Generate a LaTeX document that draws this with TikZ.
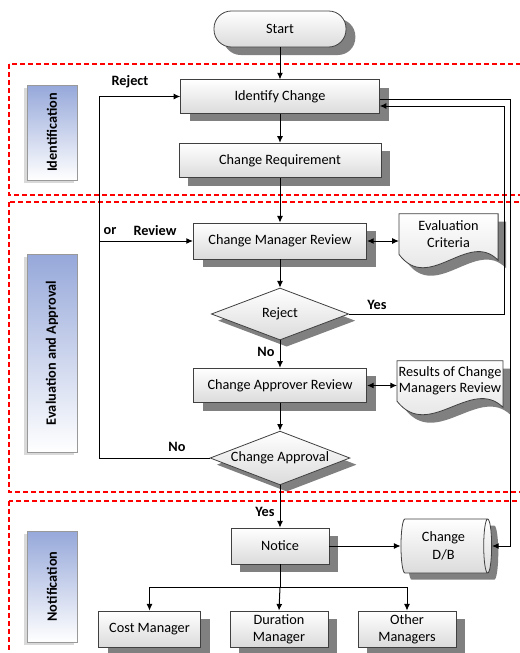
\documentclass[tikz,border=0pt]{standalone}
\usepackage{fontspec}
\setmainfont{Carlito}
\usetikzlibrary{arrows.meta,shapes.geometric,shadows,calc,backgrounds}

\definecolor{laneblue}{RGB}{150,168,218}
\definecolor{shadowgray}{RGB}{128,128,128}
\definecolor{boxline}{RGB}{64,64,64}

% document shape with wavy bottom, drawn round a node
\newcommand{\docshape}[1]{%
  \fill[shadowgray, transform canvas={shift={(6pt,-6pt)}}] (#1.north west) -- (#1.north east)
    -- ($(#1.south east)+(0,6)$)
    .. controls ($(#1.south west)!0.7!(#1.south east)+(0,-25)$) and ($(#1.south west)!0.3!(#1.south east)+(0,40)$) .. (#1.south west) -- cycle;
  \draw[draw=boxline, line width=0.6pt, top color=white, bottom color=black!14] (#1.north west) -- (#1.north east)
    -- ($(#1.south east)+(0,6)$)
    .. controls ($(#1.south west)!0.7!(#1.south east)+(0,-25)$) and ($(#1.south west)!0.3!(#1.south east)+(0,40)$) .. (#1.south west) -- cycle;
}

\begin{document}
\begin{tikzpicture}[x=0.75pt,y=-0.75pt,
  base/.style={font=\fontsize{10.7}{13}\selectfont, align=center},
  lab/.style={font=\fontsize{10.7}{13}\selectfont\bfseries},
  proc/.style={base, rectangle, draw=boxline, line width=0.6pt, top color=white, bottom color=black!14, inner sep=1pt,
    general shadow={fill=shadowgray, shadow xshift=7pt, shadow yshift=-6pt}},
  terminal/.style={proc, rounded corners=13pt, minimum width=99pt, minimum height=27pt},
  decision/.style={base, diamond, aspect=2.6, draw=boxline, line width=0.6pt, top color=white, bottom color=black!14, inner sep=1pt,
    general shadow={fill=shadowgray, shadow xshift=5pt, shadow yshift=-5pt}},
  store/.style={base, cylinder, shape aspect=0.26, draw=boxline, line width=0.6pt, top color=white, bottom color=black!14,
    minimum width=40.5pt, minimum height=68pt, inner sep=1pt,
    general shadow={fill=shadowgray, shadow xshift=5pt, shadow yshift=-5pt}},
  docnode/.style={base, inner sep=1pt},
  lane/.style={lab, rotate=90, draw=black!40, minimum height=37.5pt, top color=laneblue, middle color=laneblue!22, bottom color=white,
    general shadow={fill=black!15, shadow xshift=-2pt, shadow yshift=-2pt}},
  zone/.style={draw=red, line width=1.8pt, dash pattern=on 3.75pt off 2.25pt},
  line/.style={draw=black, line width=0.75pt, -{Latex[length=5pt,width=4.5pt]}},
  plain/.style={draw=black, line width=0.75pt}]

  \useasboundingbox (0,0) rectangle (519,653);

  % phases
  \draw[zone] (9,64) rectangle (530,195);
  \draw[zone] (9,202) rectangle (530,492);
  \draw[zone] (9,501) rectangle (530,670);

  \node[lane, minimum width=71pt] (idlane) at (52,132.5) {Identification};
  \node[lane, minimum width=148.5pt] (evlane) at (52,353) {Evaluation and Approval};
  \node[lane, minimum width=83pt] (ntlane) at (52,586.5) {Notification};

  % main flow
  \node[terminal] (start) at (280,29) {Start};
  \node[proc, minimum width=149pt, minimum height=25pt] (ident) at (280,96.5) {Identify Change};
  \node[proc, minimum width=151.5pt, minimum height=26pt] (req) at (280,160.5) {Change Requirement};
  \node[proc, minimum width=130pt, minimum height=27pt] (cmr) at (280,241) {Change Manager Review};
  \node[decision, minimum width=103pt, minimum height=39pt] (rej) at (280,314) {Reject};
  \node[proc, minimum width=130pt, minimum height=26pt] (car) at (280,385.5) {Change Approver Review};
  \node[decision, minimum width=102pt, minimum height=40pt] (capp) at (280,458) {Change Approval};
  \node[proc, minimum width=73.5pt, minimum height=27pt] (notice) at (280,546) {Notice};
  \node[proc, minimum width=77pt, minimum height=27pt] (costm) at (149.5,629) {Cost Manager};
  \node[proc, minimum width=73.5pt, minimum height=27pt] (durm) at (279,629) {Duration\\Manager};
  \node[proc, minimum width=73.5pt, minimum height=27pt] (othm) at (407,629) {Other\\Managers};

  % side shapes
  \node[docnode, minimum width=74pt, minimum height=30pt] (evalc) at (448.5,234) {Evaluation\\Criteria};
  \node[docnode, minimum width=76.5pt, minimum height=30pt, font=\fontsize{10.7}{12}\selectfont] (resm) at (450,381) {Results of Change\\Managers Review};
  \node[store] (db) at (443.5,546) {Change\\D/B};
  \begin{scope}[on background layer]
    \docshape{evalc}
    \docshape{resm}
  \end{scope}

  % labels
  \node[lab] (rejlab) at (130,82) {Reject};
  \node[lab] (orlab) at (110,231) {or};
  \node[lab] (revlab) at (155,231) {Review};
  \node[lab] (yeslab) at (377,305) {Yes};
  \node[lab] (nolab) at (266,352) {No};
  \node[lab] (nolab2) at (177,447) {No};
  \node[lab] (yeslab2) at (265,512) {Yes};

  \coordinate (loopx) at (99,0);
  \coordinate (outx) at (510,99);
  \coordinate (inx) at (504,106);
  \coordinate (split) at (280,587);

  \draw[line] (start) -- (ident);
  \draw[line] (ident) -- (req);
  \draw[line] (req) -- (cmr);
  \draw[line] (cmr) -- (rej);
  \draw[line] (rej) -- (car);
  \draw[line] (car) -- (capp);
  \draw[line] (capp) -- (notice);
  \draw[line, {Latex[length=5pt,width=4.5pt]}-{Latex[length=5pt,width=4.5pt]}] (cmr.east) -- (evalc.west |- cmr.east);
  \draw[line, {Latex[length=5pt,width=4.5pt]}-{Latex[length=5pt,width=4.5pt]}] (car.east) -- (resm.west |- car.east);
  \draw[line] (notice) -- (db);

  % loops back
  \draw[line] (capp.west) -- (capp.west -| loopx) -- (ident.west -| loopx) -- (ident.west);
  \draw[line] (cmr.west -| loopx) -- (cmr.west);
  \draw[line] (rej.east) -| (inx) -- (ident.east |- inx);
  \draw[line] (ident.east |- outx) -- (outx) |- (db.east);

  % notices
  \draw[plain] (notice) -- (split);
  \draw[line] (split) -| (costm.north);
  \draw[line] (split) -- (durm.north);
  \draw[line] (split) -| (othm.north);

\end{tikzpicture}
\end{document}
